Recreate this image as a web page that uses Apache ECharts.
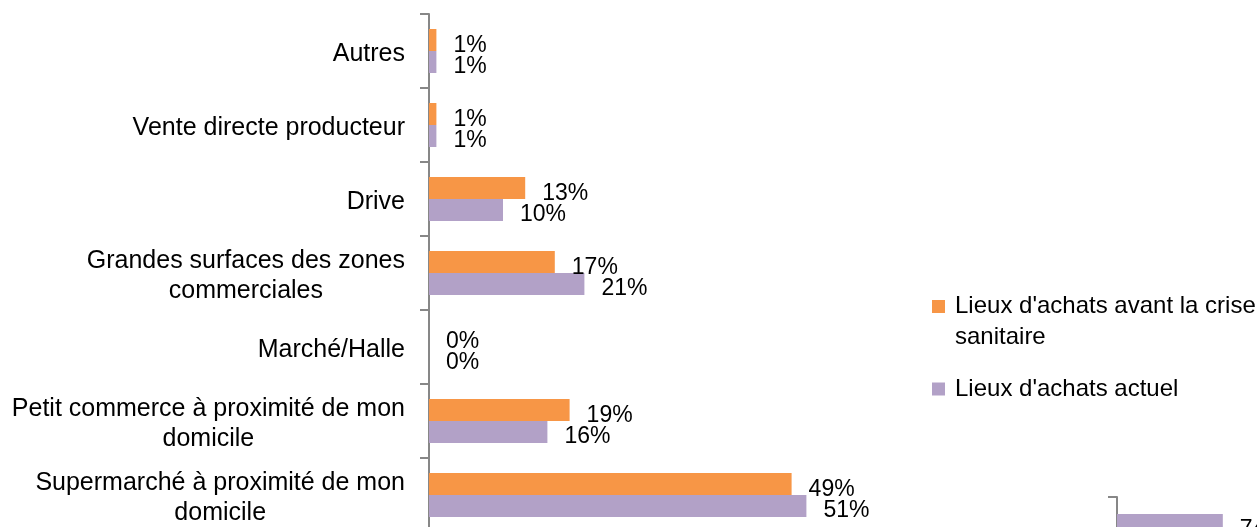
<!DOCTYPE html>
<html>
<head>
<meta charset="utf-8">
<script src="https://cdn.jsdelivr.net/npm/echarts@6/dist/echarts.min.js"></script>
<style>
  html, body { margin: 0; padding: 0; background: #fff; }
  #chart { width: 1257px; height: 527px; }
</style>
</head>
<body>
<div id="chart"></div>
<script>
// categories, top to bottom
const categories = [
	"Autres",
	"Vente directe producteur",
	"Drive",
	"Grandes surfaces des zones\ncommerciales",
	"Marché/Halle",
	"Petit commerce à proximité de mon\ndomicile",
	"Supermarché à proximité de mon\ndomicile",
];
const seriesNames = ["Lieux d'achats avant la crise sanitaire", "Lieux d'achats actuel"];
const avantCrise = [1, 1, 13, 17, 0, 19, 49];
const actuel = [1, 1, 10, 21, 0, 16, 51];
// bout du graphique suivant, visible en bas à droite
const nextChartValues = [74];

const ORANGE = "#F79646";
const PURPLE = "#B2A1C7";
const AXIS = "#878787";
const FONT = "Liberation Sans";

const myChart = echarts.init(document.getElementById("chart"));

const labelStyle = (dy) => ({
	show: true,
	position: "right",
	distance: 17,
	offset: [0, dy],
	formatter: "{c}%",
	color: "#000",
	fontSize: 23,
	fontFamily: FONT,
});

const axisStyle = {
	axisLine: { show: true, lineStyle: { color: AXIS, width: 2 } },
	axisTick: { show: true, length: 9, lineStyle: { color: AXIS, width: 2 } },
};

const option = {
	animation: false,
	backgroundColor: "#fff",
	grid: [
		{ left: 429, top: 14, width: 740, height: 518, outerBoundsMode: "none" },
		{ left: 1117, top: 497, width: 143, height: 56, outerBoundsMode: "none" },
	],
	xAxis: [
		{ gridIndex: 0, type: "value", min: 0, max: 100, show: false },
		{ gridIndex: 1, type: "value", min: 0, max: 100, show: false },
	],
	yAxis: [
		{
			gridIndex: 0,
			type: "category",
			inverse: true,
			data: categories,
			...axisStyle,
			axisLabel: {
				margin: 24,
				color: "#000",
				fontSize: 25,
				fontFamily: FONT,
				lineHeight: 30,
				padding: [6, 0, 0, 0],
				formatter: (v) =>
					v
						.split("\n")
						.map((l) => "{c|" + l + "}")
						.join("\n"),
				rich: {
					c: { align: "center", fontSize: 25, fontFamily: FONT, lineHeight: 30, color: "#000" },
				},
			},
		},
		{
			gridIndex: 1,
			type: "category",
			inverse: true,
			data: [""],
			...axisStyle,
			axisLabel: { show: false },
		},
	],
	legend: [
		{
			orient: "vertical",
			left: 932,
			top: 260,
			padding: 0,
			itemWidth: 13,
			itemHeight: 13,
			icon: "rect",
			data: [seriesNames[0]],
			formatter: () => "\nLieux d'achats avant la crise\nsanitaire",
			textStyle: {
				fontSize: 24,
				fontFamily: FONT,
				color: "#000",
				lineHeight: 31,
				padding: [0, 0, 0, 5],
			},
		},
		{
			orient: "vertical",
			left: 932,
			top: 374,
			padding: 0,
			itemWidth: 13,
			itemHeight: 13,
			icon: "rect",
			data: [seriesNames[1]],
			textStyle: {
				fontSize: 24,
				fontFamily: FONT,
				color: "#000",
				lineHeight: 30,
				padding: [0, 0, 0, 5],
			},
		},
	],
	series: [
		{
			name: seriesNames[0],
			type: "bar",
			xAxisIndex: 0,
			yAxisIndex: 0,
			data: avantCrise,
			barWidth: 22,
			barGap: "0%",
			itemStyle: { color: ORANGE },
			label: labelStyle(6),
		},
		{
			name: seriesNames[1],
			type: "bar",
			xAxisIndex: 0,
			yAxisIndex: 0,
			data: actuel,
			barWidth: 22,
			barGap: "0%",
			itemStyle: { color: PURPLE },
			label: labelStyle(5),
		},
		{
			name: seriesNames[1],
			type: "bar",
			xAxisIndex: 1,
			yAxisIndex: 1,
			data: nextChartValues,
			barWidth: 22,
			itemStyle: { color: PURPLE },
			label: labelStyle(5),
		},
	],
};
myChart.setOption(option);
</script>
</body>
</html>
